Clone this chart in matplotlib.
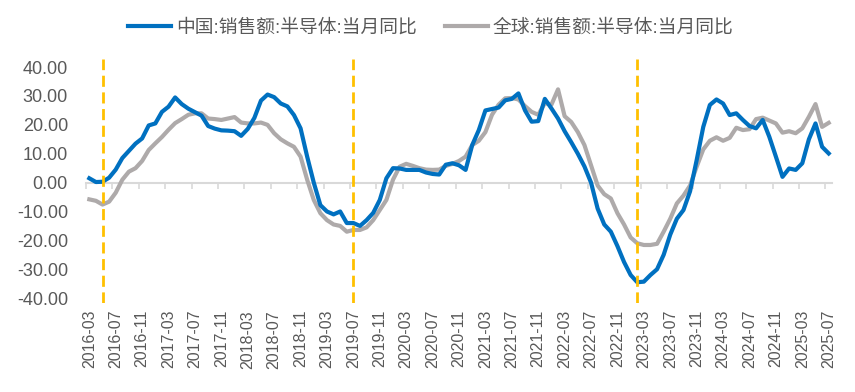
import numpy as np
import pandas as pd
import matplotlib
matplotlib.use('Agg')
import matplotlib.pyplot as plt
from matplotlib.ticker import FormatStrFormatter

plt.rcParams['font.family'] = ['Liberation Sans', 'Noto Sans CJK SC', 'DejaVu Sans']

# monthly, 2016-03 .. 2025-07
months = [str(p) for p in pd.period_range('2016-03', '2025-07', freq='M')]

china = [
    1.5, 0.2, 0.3, 1.7, 4.5, 8.5, 11.0, 13.5, 15.3, 19.8,
    20.5, 24.5, 26.3, 29.5, 27.2, 25.6, 24.4, 23.2, 19.6, 18.7,
    18.1, 18.0, 17.8, 16.2, 18.6, 22.4, 28.4, 30.5, 29.6, 27.4,
    26.4, 23.4, 18.8, 9.0, 0.0, -7.8, -10.0, -11.0, -10.0, -14.0,
    -14.0, -15.0, -13.0, -10.5, -6.0, 1.5, 5.0, 4.9, 4.4, 4.4,
    4.4, 3.5, 3.0, 2.8, 6.2, 6.7, 6.0, 4.4, 13.0, 18.2,
    25.0, 25.5, 26.0, 28.5, 29.0, 30.9, 25.0, 21.1, 21.3, 29.0,
    25.7, 22.2, 17.8, 14.0, 10.0, 5.6, 0.0, -9.0, -14.5, -17.0,
    -22.0, -27.5, -32.0, -34.5, -34.3, -32.0, -30.0, -25.0, -18.0, -12.5,
    -9.5, -3.0, 7.8, 19.3, 26.9, 28.8, 27.4, 23.4, 24.0, 21.7,
    19.6, 18.8, 21.7, 15.9, 9.0, 2.0, 4.9, 4.4, 6.7, 15.0,
    20.5, 12.4, 10.1,
]

world = [
    -5.8, -6.3, -7.6, -6.6, -3.5, 1.0, 3.8, 5.0, 7.5, 11.3,
    13.6, 15.8, 18.3, 20.6, 22.0, 23.5, 24.0, 24.0, 22.2, 22.0,
    21.7, 22.2, 22.7, 20.8, 20.5, 20.5, 20.8, 20.0, 17.1, 15.0,
    13.6, 12.4, 9.0, 1.0, -6.0, -10.6, -13.0, -14.5, -15.0, -17.0,
    -16.4, -16.4, -15.5, -13.0, -9.5, -6.0, 1.0, 5.5, 6.5, 5.8,
    5.0, 4.5, 4.4, 4.5, 5.8, 6.5, 7.5, 9.0, 13.0, 14.5,
    17.5, 23.5, 27.0, 29.2, 29.3, 28.8, 26.5, 24.5, 23.5, 27.5,
    27.0, 32.3, 23.0, 21.0, 17.5, 13.0, 6.0, -1.0, -4.0, -5.5,
    -10.6, -14.5, -19.0, -21.0, -21.6, -21.6, -21.2, -17.0, -12.5, -7.2,
    -4.5, -1.0, 5.5, 11.5, 14.5, 15.7, 14.5, 15.5, 19.0, 18.2,
    18.5, 22.0, 22.5, 21.5, 20.5, 17.3, 17.8, 17.1, 18.8, 22.8,
    27.2, 19.3, 20.7,
]

event_months = ['2016-05', '2019-07', '2023-02']

label_china = '中国:销售额:半导体:当月同比'
label_world = '全球:销售额:半导体:当月同比'

x = np.arange(len(months))

fig = plt.figure(figsize=(8.55, 3.92), dpi=100)
ax = fig.add_axes([0.1006, 0.227, 0.8725, 0.6224])

ax.plot(x, china, color='#0070C0', lw=3.0, label=label_china, zorder=4,
        solid_joinstyle='round')
ax.plot(x, world, color='#AEAAAA', lw=3.0, label=label_world, zorder=3,
        solid_joinstyle='round')

for m in event_months:
    ax.axvline(months.index(m), color='#FFC000', lw=2.0,
               linestyle=(0, (4, 2)), zorder=5)

ax.set_xlim(-0.5, len(months) - 0.5)
ax.set_ylim(-41.7, 42.8)

# y axis
ax.set_yticks(np.arange(-40, 41, 10))
ax.yaxis.set_major_formatter(FormatStrFormatter('%.2f'))
ax.tick_params(axis='y', length=0, pad=13, labelsize=13, labelcolor='#595959')

for s in ['top', 'right', 'left']:
    ax.spines[s].set_visible(False)

# zero line with small tick marks between categories
ax.spines['bottom'].set_position(('data', 0))
ax.spines['bottom'].set_color('#D9D9D9')
ax.spines['bottom'].set_linewidth(1.5)
ax.spines['bottom'].set_zorder(1)
ax.set_xticks(x[::4] - 0.5)
ax.tick_params(axis='x', direction='out', length=4, width=1.2,
               color='#D9D9D9', labelbottom=False)

# category labels at the bottom
sec = ax.secondary_xaxis(0)
sec.set_xticks(x[::4], labels=months[::4])
sec.tick_params(axis='x', length=0, pad=5, labelsize=11.5,
                labelcolor='#595959', labelrotation=90)
sec.spines['bottom'].set_visible(False)

fig.legend(loc='center', bbox_to_anchor=(0.504, 0.929), ncol=2,
           frameon=False, fontsize=13.5, handlelength=2.3,
           handletextpad=0.25, columnspacing=1.5, labelcolor='#595959')

fig.savefig('out.png', dpi=100)
